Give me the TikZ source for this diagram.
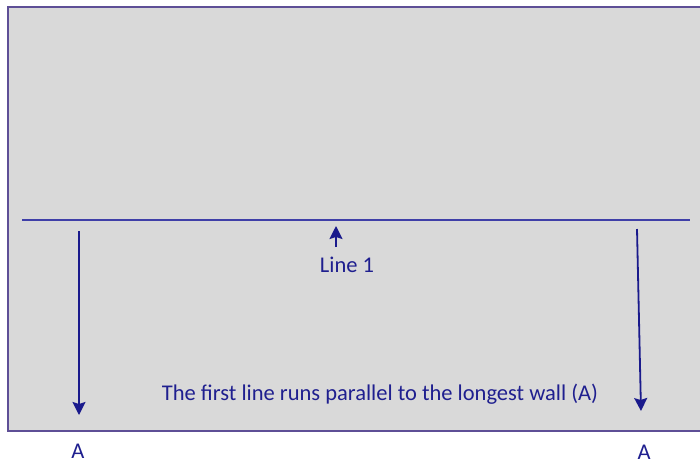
\documentclass[tikz,border=0pt]{standalone}
\usepackage{fontspec}
\setmainfont{Carlito}
\usetikzlibrary{arrows.meta}
\definecolor{wallfill}{HTML}{D9D9D9}
\definecolor{wallborder}{HTML}{5E4F96}
\definecolor{linecol}{HTML}{3F3FA8}
\definecolor{arrowcol}{HTML}{1A1A8C}
\definecolor{txtcol}{HTML}{1F1F8F}
\begin{document}
\begin{tikzpicture}[x=1pt,y=-1pt,
  lbl/.style={text=txtcol,font=\fontsize{22.5}{26}\selectfont,inner sep=0pt},
  arr/.style={draw=arrowcol,line width=1.8pt,-{Stealth[length=13pt,width=13pt,inset=2pt]}}]
\useasboundingbox (0,0) rectangle (700,464);
\fill[white] (0,0) rectangle (700,464);
\draw[fill=wallfill,draw=wallborder,line width=2pt] (8,7) rectangle (712,431);
\coordinate (l1a) at (22,220);
\coordinate (l1b) at (690,220);
\draw[draw=linecol,line width=1.6pt] (l1a) -- (l1b);
\coordinate (la0) at (79,231);
\coordinate (la1) at (79,415);
\coordinate (ra0) at (637,229);
\coordinate (ra1) at (641,411);
\coordinate (u0) at (336,247);
\coordinate (u1) at (336,226);
\draw[arr] (la0) -- (la1);
\draw[arr] (ra0) -- (ra1);
\draw[arr] (u0) -- (u1);
\node[lbl] (line1) at (347,265) {Line 1};
\node[lbl] (desc) at (380,394) {The first line runs parallel to the longest wall (A)};
\node[lbl] (aL) at (78,451) {A};
\node[lbl] (aR) at (644,452) {A};
\end{tikzpicture}
\end{document}
